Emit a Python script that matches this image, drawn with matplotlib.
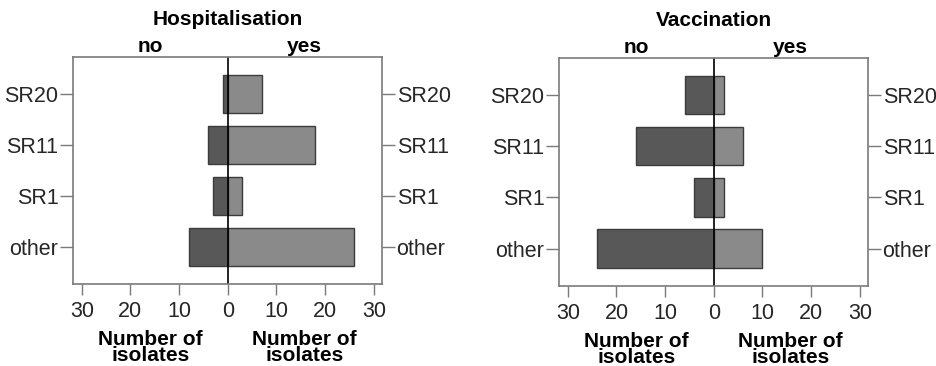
import matplotlib
matplotlib.use('Agg')
import matplotlib.pyplot as plt
import numpy as np

plt.rcParams['font.family'] = ['Liberation Sans', 'DejaVu Sans']

# Datos
categorias = ['other', 'SR1', 'SR11', 'SR20']
hosp_no = [8, 3, 4, 1]
hosp_yes = [26, 3, 18, 7]
vacc_no = [24, 4, 16, 6]
vacc_yes = [10, 2, 6, 2]
ticks_x = [-30, -20, -10, 0, 10, 20, 30]

paneles = [
    ('Hospitalisation', hosp_no, hosp_yes, [0.0779, 0.224, 0.3298, 0.620]),
    ('Vaccination', vacc_no, vacc_yes, [0.5966, 0.219, 0.3298, 0.623]),
]

fig = plt.figure(figsize=(9.37, 3.66), dpi=100)

color_no = '#585858'
color_si = '#8a8a8a'
borde = '#3c3c3c'
marco = '#7a7a7a'

for titulo, no, si, pos in paneles:
    ax = fig.add_axes(pos)
    y = np.arange(len(categorias))
    ax.barh(y, [-v for v in no], height=0.75, color=color_no,
            edgecolor=borde, linewidth=1)
    ax.barh(y, si, height=0.75, color=color_si,
            edgecolor=borde, linewidth=1)
    ax.axvline(0, color='black', linewidth=1.2)

    ax.set_xlim(-31.8, 31.7)
    ax.set_ylim(-0.73, 3.73)
    ax.set_xticks(ticks_x)
    ax.set_xticklabels([str(abs(t)) for t in ticks_x])
    ax.set_yticks(y)
    ax.set_yticklabels(categorias)

    ax.tick_params(axis='y', left=True, right=True, labelleft=True,
                   labelright=True, length=9.5, width=1, color=marco,
                   labelsize=15.5, pad=1, labelcolor='#262626')
    ax.tick_params(axis='x', length=8, width=1, color=marco,
                   labelsize=15.5, pad=4, labelcolor='#262626')
    for s in ax.spines.values():
        s.set_color(marco)
        s.set_linewidth(1.2)

    ax.text(0.5, 1.165, titulo, transform=ax.transAxes, ha='center',
            va='center', fontsize=15, fontweight='bold')
    ax.text(0.25, 1.045, 'no', transform=ax.transAxes, ha='center',
            va='center', fontsize=15, fontweight='bold')
    ax.text(0.75, 1.045, 'yes', transform=ax.transAxes, ha='center',
            va='center', fontsize=15, fontweight='bold')
    for xf in (0.25, 0.75):
        ax.text(xf, -0.28, 'Number of\nisolates', transform=ax.transAxes,
                ha='center', va='center', fontsize=15, fontweight='bold',
                linespacing=0.8)

plt.savefig('out.png', dpi=100)
